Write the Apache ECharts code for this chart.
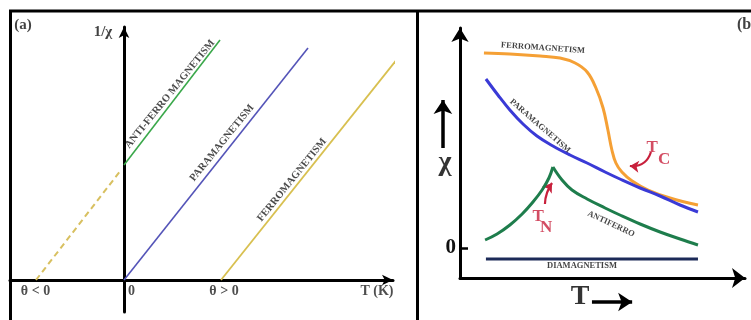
<!DOCTYPE html>
<html><head><meta charset="utf-8">
<script src="https://cdn.jsdelivr.net/npm/echarts@6/dist/echarts.min.js"></script>
<style>html,body{margin:0;padding:0;background:#fff}#c{width:751px;height:320px}</style>
</head><body><div id="c"></div>
<script>
// ---------- Panel (a): 1/chi versus T ----------
const aParamagnetism   = [[0, 0], [18.4, 23.2]];
const aFerromagnetism  = [[9.7, 0], [28.2, 23.2]];
const aAntiferro       = [[0, 11.5], [9.6, 24.0]];
const aAntiferroExtrap = [[-8.8, 0], [-0.3, 11.0]];
const aTickValues = [-8.85, 0.75, 10.0, 25.3];
const aTickLabels = ['θ < 0', '0', 'θ > 0', 'T (K)'];
const aLineLabels = [
  ['ANTI-FERRO MAGNETISM', 4.6, 18.6],
  ['PARAMAGNETISM', 9.8, 13.7],
  ['FERROMAGNETISM', 16.8, 10.0]
];
const aTitles = [['(a)', -10.1, 25.5], ['1/χ', -2.1, 24.8]];

// ---------- Panel (b): chi versus T ----------
const bFerro = [[8.4,19.5],[17.5,19.4],[28.1,19.2],[35.1,19.0],[40.4,18.5],[44.6,17.6],[47.7,16.0],[50.2,14.0],[51.9,11.8],[53.3,9.8],[54.7,8.5],[56.8,7.6],[60.4,6.7],[66.0,5.8],[73.7,5.0],[83.5,4.3]];
const bPara = [[9.1,16.9],[13.3,15.3],[17.5,13.8],[22.1,12.4],[27.0,11.2],[32.6,10.2],[38.6,9.3],[44.6,8.5],[50.9,7.6],[56.1,6.9],[63.2,6.0],[70.2,5.2],[77.2,4.3],[83.5,3.6]];
const bAntiRise = [[8.8,0.8],[13.0,1.4],[17.5,2.3],[21.8,3.4],[25.6,4.6],[28.8,5.8],[31.2,7.0],[32.6,8.1]];
const bAntiFall = [[32.6,8.1],[35.8,6.8],[39.3,5.8],[44.6,4.9],[50.9,4.0],[56.1,3.3],[63.2,2.4],[70.2,1.6],[77.2,0.9],[83.5,0.3]];
const bDia = [[9.1,-1.1],[83.5,-1.1]];
const bCurveLabels = [
  ['FERROMAGNETISM', 29.1, 20.0, -4],
  ['PARAMAGNETISM', 28.1, 12.2, -41],
  ['ANTIFERRO', 53.0, 2.4, -25],
  ['DIAMAGNETISM', 42.8, -1.8, 0]
];
const bZeroTick = [0];
const bTempMarks = [['T', 67.4, 10.0], ['C', 71.6, 8.8], ['T', 27.4, 3.1], ['N', 30.2, 2.0]];
const bTempArrows = [[[67.0, 9.6], [59.6, 8.2], 0.4], [[29.8, 4.4], [32.3, 6.5], 0.15]];
const bAxisArrows = [[[-6.0, 10.0], [-6.0, 14.8]], [[46.3, -5.4], [60.4, -5.4]]];
const bBigLabels = [['χ', -5.3, 8.5], ['T', 42.1, -4.9]];
const bTitle = [['(b)', 100.6, 22.3]];

const SERIF = "'Liberation Serif', 'Times New Roman', serif";
const RED = '#c8203c';

function labelSeries(xi, items, style) {
  return {
    type: 'scatter', xAxisIndex: xi, yAxisIndex: xi, clip: false, silent: true,
    symbol: 'circle', symbolSize: 1, itemStyle: { color: 'rgba(0,0,0,0)' }, z: 10,
    data: items.map(it => {
      const d = { value: [it[1], it[2]], name: it[0] };
      if (it[3] !== undefined) d.label = { rotate: it[3] };
      return d;
    }),
    label: Object.assign({ show: true, position: 'inside', formatter: p => p.name,
      fontFamily: SERIF, fontWeight: 'bold', color: '#111', align: 'center', verticalAlign: 'middle' }, style)
  };
}
function lineSeries(xi, data, color, width, extra) {
  return Object.assign({ type: 'line', xAxisIndex: xi, yAxisIndex: xi, data: data, showSymbol: false,
    symbol: 'none', silent: true, lineStyle: { color: color, width: width }, clip: false }, extra || {});
}

const chart = echarts.init(document.getElementById('c'), null, { renderer: 'canvas' });
chart.setOption({
  animation: false,
  backgroundColor: '#fff',
  graphic: [
    { type: 'polyline', shape: { points: [[10.5, 340], [10.5, 11], [770, 11]] }, style: { stroke: '#000', lineWidth: 3, fill: null } },
    { type: 'line', shape: { x1: 417.5, y1: 11, x2: 417.5, y2: 340 }, style: { stroke: '#000', lineWidth: 3 } }
  ],
  grid: [
    { left: 10, right: 358, top: 27, bottom: 8, containLabel: false, outerBoundsMode: 'none' },
    { left: 460, right: 6, top: 28, bottom: 42, containLabel: false, outerBoundsMode: 'none' }
  ],
  xAxis: [
    { type: 'value', gridIndex: 0, min: -11.4, max: 26.9, splitLine: { show: false },
      axisLine: { onZero: true, lineStyle: { color: '#000', width: 3 }, symbol: ['none', 'arrow'], symbolSize: [8, 11] },
      axisTick: { show: false }, axisLabel: { show: false } },
    { type: 'value', gridIndex: 1, min: 0, max: 100, splitLine: { show: false },
      axisLine: { onZero: false, lineStyle: { color: '#000', width: 3 }, symbol: ['none', 'arrow'], symbolSize: [15, 13] },
      axisTick: { show: false }, axisLabel: { show: false } }
  ],
  yAxis: [
    { type: 'value', gridIndex: 0, min: -3.2, max: 25.3, splitLine: { show: false },
      axisLine: { onZero: true, lineStyle: { color: '#000', width: 3 }, symbol: ['none', 'arrow'], symbolSize: [8, 11] },
      axisTick: { show: false }, axisLabel: { show: false } },
    { type: 'value', gridIndex: 1, min: -3, max: 22, splitLine: { show: false },
      axisLine: { onZero: false, lineStyle: { color: '#000', width: 3 }, symbol: ['none', 'arrow'], symbolSize: [13, 14] },
      axisTick: { show: true, customValues: bZeroTick, inside: true, length: 8, lineStyle: { color: '#000', width: 2.5 } },
      axisLabel: { customValues: bZeroTick, formatter: '0', fontFamily: SERIF, fontWeight: 'bold', fontSize: 21, color: '#111', margin: 4 } }
  ],
  series: [
    // panel (a)
    lineSeries(0, aAntiferroExtrap, '#d8c060', 2, { lineStyle: { color: '#d8c060', width: 2, type: [6, 4] } }),
    lineSeries(0, aAntiferro, '#3aa84a', 1.6),
    lineSeries(0, aParamagnetism, '#5454b8', 1.6),
    lineSeries(0, aFerromagnetism, '#d8c050', 1.8),
    labelSeries(0, aLineLabels, { fontSize: 10.5, rotate: 51, color: '#1a1a1a' }),
    labelSeries(0, aTitles, { fontSize: 15, color: '#111' }),
    labelSeries(0, aTickValues.map((v, i) => [aTickLabels[i], v, -1.1]), { fontSize: 14, color: '#222' }),
    // panel (b)
    lineSeries(1, bFerro, '#f5a035', 3, { smooth: 0.4 }),
    lineSeries(1, bPara, '#3a3ad6', 3, { smooth: 0.4 }),
    lineSeries(1, bAntiRise, '#1e7d4c', 3, { smooth: 0.4 }),
    lineSeries(1, bAntiFall, '#1e7d4c', 3, { smooth: 0.4 }),
    lineSeries(1, bDia, '#1c2a58', 3),
    labelSeries(1, bCurveLabels, { fontSize: 8.5, color: '#111' }),
    labelSeries(1, bTempMarks, { fontSize: 17, color: RED }),
    labelSeries(1, bBigLabels, { fontSize: 28, color: '#000' }),
    labelSeries(1, bTitle, { fontSize: 16, color: '#111' }),
    { type: 'lines', coordinateSystem: 'cartesian2d', xAxisIndex: 1, yAxisIndex: 1, clip: false, silent: true,
      symbol: ['none', 'arrow'], symbolSize: 9,
      lineStyle: { color: RED, width: 2.2, opacity: 1 },
      data: bTempArrows.map(a => ({ coords: [a[0], a[1]], lineStyle: { curveness: a[2] } })) },
    { type: 'lines', coordinateSystem: 'cartesian2d', xAxisIndex: 1, yAxisIndex: 1, clip: false, silent: true,
      symbol: ['none', 'arrow'], symbolSize: 14,
      lineStyle: { color: '#000', width: 3.5, opacity: 1, curveness: 0 },
      data: bAxisArrows.map(a => ({ coords: a })) }
  ]
});
</script></body></html>
